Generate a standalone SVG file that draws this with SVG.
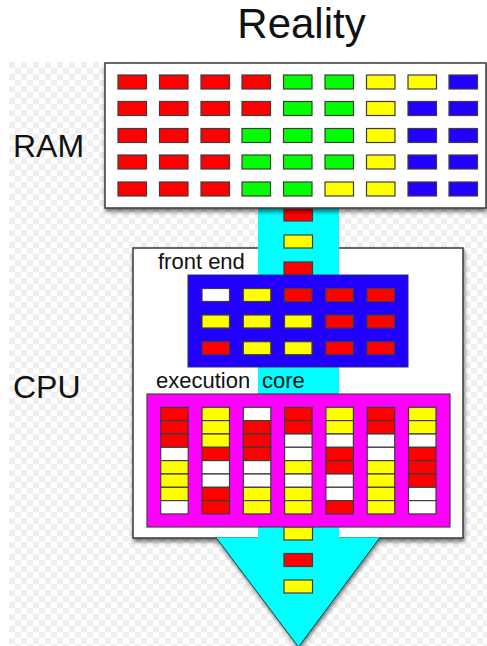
<svg xmlns="http://www.w3.org/2000/svg" width="487" height="646" viewBox="0 0 487 646">
  <defs>
    <pattern id="checker" x="9" y="62" width="12" height="12" patternUnits="userSpaceOnUse">
      <rect width="12" height="12" fill="#ffffff"/>
      <rect width="6" height="6" fill="#efefef"/>
      <rect x="6" y="6" width="6" height="6" fill="#efefef"/>
    </pattern>
    <filter id="shadow" x="-10%" y="-10%" width="130%" height="130%">
      <feDropShadow dx="1" dy="3" stdDeviation="2.2" flood-color="#000" flood-opacity="0.55"/>
    </filter>
    <style>
      .lbl { font-family: "Liberation Sans", Arial, sans-serif; fill: #111; }
      .box { fill: #ffffff; stroke: #3a3a3a; stroke-width: 1.5; }
      .c { stroke: #3c3c3c; stroke-width: 1.2; }
      .r { fill: #ff0000; }
      .g { fill: #00ff00; }
      .y { fill: #ffff00; }
      .b { fill: #2200ff; }
      .w { fill: #ffffff; }
    </style>
  </defs>

  <!-- backdrop -->
  <rect width="487" height="646" fill="#ffffff"/>
  <rect x="9" y="62" width="478" height="584" fill="url(#checker)"/>

  <!-- headings -->
  <text class="lbl" x="301.5" y="38" font-size="42" text-anchor="middle">Reality</text>
  <text class="lbl" x="13" y="157" font-size="32">RAM</text>
  <text class="lbl" x="13" y="398" font-size="32">CPU</text>

  <!-- CPU enclosure -->
  <g id="cpu">
    <rect class="box" x="133" y="248" width="330" height="290" filter="url(#shadow)"/>
  </g>

  <!-- data flow arrow from RAM through the CPU -->
  <g id="connectors">
    <polygon points="216,537.5 380,537.5 298.5,647" fill="#00ffff" filter="url(#shadow)"/>
    <path d="M216,537.5 L298.5,647 L380,537.5" fill="none" stroke="#1f3a3a" stroke-width="1"/>
    <rect x="258" y="205" width="81" height="334" fill="#00ffff"/>
    <g class="c">
      <rect class="r" x="284" y="208" width="28.5" height="13"/>
      <rect class="y" x="284" y="235" width="28.5" height="13"/>
      <rect class="r" x="284" y="262" width="28.5" height="13"/>
      <rect class="y" x="284" y="527" width="28.5" height="13"/>
      <rect class="r" x="284" y="553.5" width="28.5" height="13"/>
      <rect class="y" x="284" y="580" width="28.5" height="13"/>
    </g>
  </g>

  <!-- RAM block -->
  <g id="ram">
    <rect class="box" x="105" y="63" width="381" height="145" filter="url(#shadow)"/>
    <g class="c">
      <!-- row 1 -->
      <rect class="r" x="118" y="75" width="28.5" height="14"/>
      <rect class="r" x="159.5" y="75" width="28.5" height="14"/>
      <rect class="r" x="201" y="75" width="28.5" height="14"/>
      <rect class="r" x="242" y="75" width="28.5" height="14"/>
      <rect class="g" x="283.5" y="75" width="28.5" height="14"/>
      <rect class="g" x="325" y="75" width="28.5" height="14"/>
      <rect class="y" x="366.5" y="75" width="28.5" height="14"/>
      <rect class="y" x="408" y="75" width="28.5" height="14"/>
      <rect class="b" x="449" y="75" width="28.5" height="14"/>
      <!-- row 2 -->
      <rect class="r" x="118" y="101.5" width="28.5" height="14"/>
      <rect class="r" x="159.5" y="101.5" width="28.5" height="14"/>
      <rect class="r" x="201" y="101.5" width="28.5" height="14"/>
      <rect class="r" x="242" y="101.5" width="28.5" height="14"/>
      <rect class="g" x="283.5" y="101.5" width="28.5" height="14"/>
      <rect class="g" x="325" y="101.5" width="28.5" height="14"/>
      <rect class="y" x="366.5" y="101.5" width="28.5" height="14"/>
      <rect class="b" x="408" y="101.5" width="28.5" height="14"/>
      <rect class="b" x="449" y="101.5" width="28.5" height="14"/>
      <!-- row 3 -->
      <rect class="r" x="118" y="128.5" width="28.5" height="14"/>
      <rect class="r" x="159.5" y="128.5" width="28.5" height="14"/>
      <rect class="r" x="201" y="128.5" width="28.5" height="14"/>
      <rect class="g" x="242" y="128.5" width="28.5" height="14"/>
      <rect class="g" x="283.5" y="128.5" width="28.5" height="14"/>
      <rect class="g" x="325" y="128.5" width="28.5" height="14"/>
      <rect class="y" x="366.5" y="128.5" width="28.5" height="14"/>
      <rect class="b" x="408" y="128.5" width="28.5" height="14"/>
      <rect class="b" x="449" y="128.5" width="28.5" height="14"/>
      <!-- row 4 -->
      <rect class="r" x="118" y="155" width="28.5" height="14"/>
      <rect class="r" x="159.5" y="155" width="28.5" height="14"/>
      <rect class="r" x="201" y="155" width="28.5" height="14"/>
      <rect class="g" x="242" y="155" width="28.5" height="14"/>
      <rect class="g" x="283.5" y="155" width="28.5" height="14"/>
      <rect class="g" x="325" y="155" width="28.5" height="14"/>
      <rect class="y" x="366.5" y="155" width="28.5" height="14"/>
      <rect class="b" x="408" y="155" width="28.5" height="14"/>
      <rect class="b" x="449" y="155" width="28.5" height="14"/>
      <!-- row 5 -->
      <rect class="r" x="118" y="182" width="28.5" height="14"/>
      <rect class="r" x="159.5" y="182" width="28.5" height="14"/>
      <rect class="r" x="201" y="182" width="28.5" height="14"/>
      <rect class="g" x="242" y="182" width="28.5" height="14"/>
      <rect class="g" x="283.5" y="182" width="28.5" height="14"/>
      <rect class="y" x="325" y="182" width="28.5" height="14"/>
      <rect class="y" x="366.5" y="182" width="28.5" height="14"/>
      <rect class="b" x="408" y="182" width="28.5" height="14"/>
      <rect class="b" x="449" y="182" width="28.5" height="14"/>
    </g>
  </g>

  <!-- front end queue -->
  <g id="front-end">
    <text class="lbl" x="158" y="269" font-size="22">front end</text>
    <rect x="188" y="275" width="220" height="92" fill="#2200ff" stroke="#2a2a6a" stroke-width="1"/>
    <g class="c">
      <rect class="w" x="202" y="288.5" width="27.5" height="13"/>
      <rect class="y" x="243.3" y="288.5" width="27.5" height="13"/>
      <rect class="r" x="284.5" y="288.5" width="27.5" height="13"/>
      <rect class="r" x="325.8" y="288.5" width="27.5" height="13"/>
      <rect class="r" x="367" y="288.5" width="27.5" height="13"/>

      <rect class="y" x="202" y="315" width="27.5" height="13"/>
      <rect class="y" x="243.3" y="315" width="27.5" height="13"/>
      <rect class="y" x="284.5" y="315" width="27.5" height="13"/>
      <rect class="r" x="325.8" y="315" width="27.5" height="13"/>
      <rect class="r" x="367" y="315" width="27.5" height="13"/>

      <rect class="r" x="202" y="341.7" width="27.5" height="13"/>
      <rect class="y" x="243.3" y="341.7" width="27.5" height="13"/>
      <rect class="y" x="284.5" y="341.7" width="27.5" height="13"/>
      <rect class="r" x="325.8" y="341.7" width="27.5" height="13"/>
      <rect class="r" x="367" y="341.7" width="27.5" height="13"/>
    </g>
  </g>

  <!-- execution core pipelines -->
  <g id="execution-core">
    <text class="lbl" x="156" y="388" font-size="22">execution <tspan x="262">core</tspan></text>
    <rect x="147" y="394" width="303" height="133" fill="#ff00ff" stroke="#4a3a4a" stroke-width="1.2"/>
    <g class="c">
      <!-- pipe 1 -->
      <rect class="r" x="160.7" y="407.3" width="27.5" height="13.33"/>
      <rect class="r" x="160.7" y="420.6" width="27.5" height="13.33"/>
      <rect class="r" x="160.7" y="434" width="27.5" height="13.33"/>
      <rect class="w" x="160.7" y="447.3" width="27.5" height="13.33"/>
      <rect class="y" x="160.7" y="460.6" width="27.5" height="13.33"/>
      <rect class="y" x="160.7" y="474" width="27.5" height="13.33"/>
      <rect class="y" x="160.7" y="487.3" width="27.5" height="13.33"/>
      <rect class="w" x="160.7" y="500.6" width="27.5" height="13.33"/>
      <!-- pipe 2 -->
      <rect class="y" x="202" y="407.3" width="27.5" height="13.33"/>
      <rect class="y" x="202" y="420.6" width="27.5" height="13.33"/>
      <rect class="y" x="202" y="434" width="27.5" height="13.33"/>
      <rect class="r" x="202" y="447.3" width="27.5" height="13.33"/>
      <rect class="w" x="202" y="460.6" width="27.5" height="13.33"/>
      <rect class="w" x="202" y="474" width="27.5" height="13.33"/>
      <rect class="r" x="202" y="487.3" width="27.5" height="13.33"/>
      <rect class="r" x="202" y="500.6" width="27.5" height="13.33"/>
      <!-- pipe 3 -->
      <rect class="w" x="243.3" y="407.3" width="27.5" height="13.33"/>
      <rect class="r" x="243.3" y="420.6" width="27.5" height="13.33"/>
      <rect class="r" x="243.3" y="434" width="27.5" height="13.33"/>
      <rect class="r" x="243.3" y="447.3" width="27.5" height="13.33"/>
      <rect class="w" x="243.3" y="460.6" width="27.5" height="13.33"/>
      <rect class="w" x="243.3" y="474" width="27.5" height="13.33"/>
      <rect class="y" x="243.3" y="487.3" width="27.5" height="13.33"/>
      <rect class="y" x="243.3" y="500.6" width="27.5" height="13.33"/>
      <!-- pipe 4 -->
      <rect class="r" x="284.6" y="407.3" width="27.5" height="13.33"/>
      <rect class="r" x="284.6" y="420.6" width="27.5" height="13.33"/>
      <rect class="w" x="284.6" y="434" width="27.5" height="13.33"/>
      <rect class="w" x="284.6" y="447.3" width="27.5" height="13.33"/>
      <rect class="y" x="284.6" y="460.6" width="27.5" height="13.33"/>
      <rect class="w" x="284.6" y="474" width="27.5" height="13.33"/>
      <rect class="y" x="284.6" y="487.3" width="27.5" height="13.33"/>
      <rect class="y" x="284.6" y="500.6" width="27.5" height="13.33"/>
      <!-- pipe 5 -->
      <rect class="y" x="325.9" y="407.3" width="27.5" height="13.33"/>
      <rect class="y" x="325.9" y="420.6" width="27.5" height="13.33"/>
      <rect class="w" x="325.9" y="434" width="27.5" height="13.33"/>
      <rect class="r" x="325.9" y="447.3" width="27.5" height="13.33"/>
      <rect class="r" x="325.9" y="460.6" width="27.5" height="13.33"/>
      <rect class="w" x="325.9" y="474" width="27.5" height="13.33"/>
      <rect class="w" x="325.9" y="487.3" width="27.5" height="13.33"/>
      <rect class="r" x="325.9" y="500.6" width="27.5" height="13.33"/>
      <!-- pipe 6 -->
      <rect class="r" x="367.2" y="407.3" width="27.5" height="13.33"/>
      <rect class="r" x="367.2" y="420.6" width="27.5" height="13.33"/>
      <rect class="w" x="367.2" y="434" width="27.5" height="13.33"/>
      <rect class="w" x="367.2" y="447.3" width="27.5" height="13.33"/>
      <rect class="y" x="367.2" y="460.6" width="27.5" height="13.33"/>
      <rect class="y" x="367.2" y="474" width="27.5" height="13.33"/>
      <rect class="y" x="367.2" y="487.3" width="27.5" height="13.33"/>
      <rect class="y" x="367.2" y="500.6" width="27.5" height="13.33"/>
      <!-- pipe 7 -->
      <rect class="y" x="408.5" y="407.3" width="27.5" height="13.33"/>
      <rect class="y" x="408.5" y="420.6" width="27.5" height="13.33"/>
      <rect class="w" x="408.5" y="434" width="27.5" height="13.33"/>
      <rect class="r" x="408.5" y="447.3" width="27.5" height="13.33"/>
      <rect class="r" x="408.5" y="460.6" width="27.5" height="13.33"/>
      <rect class="r" x="408.5" y="474" width="27.5" height="13.33"/>
      <rect class="w" x="408.5" y="487.3" width="27.5" height="13.33"/>
      <rect class="w" x="408.5" y="500.6" width="27.5" height="13.33"/>
    </g>
  </g>
</svg>
